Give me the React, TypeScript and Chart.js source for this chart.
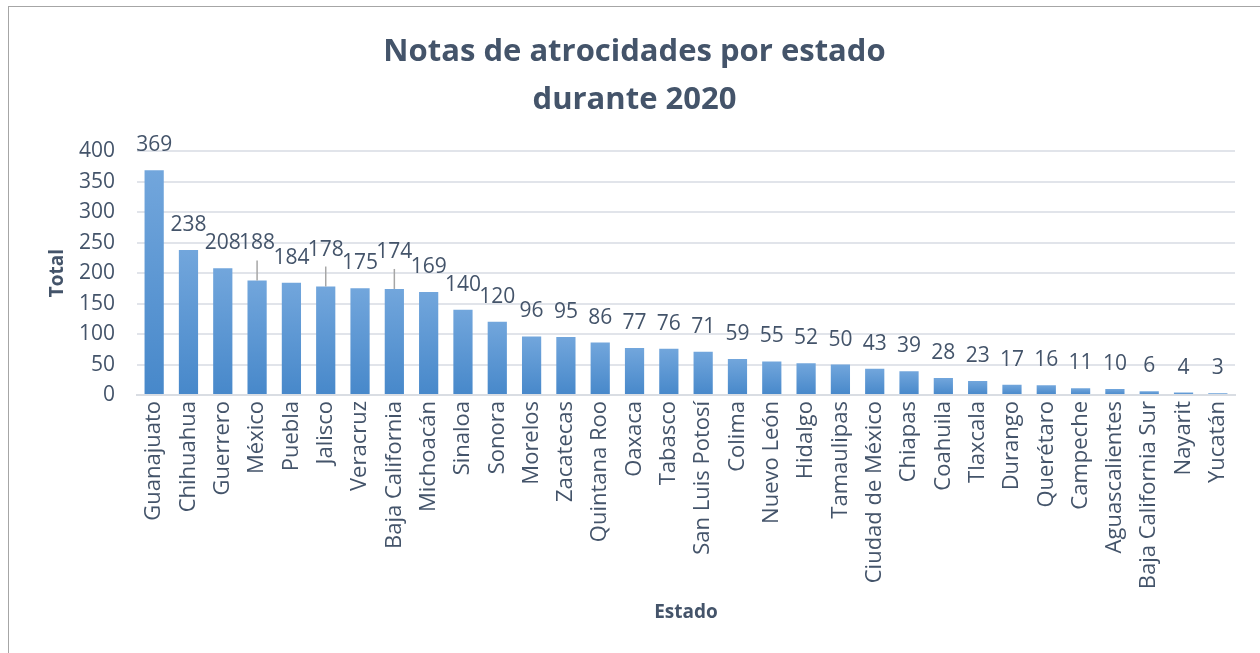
import React, { useEffect, useRef } from "react";
import { Chart, registerables } from "chart.js";

Chart.register(...registerables);

const states: string[] = [
  "Guanajuato", "Chihuahua", "Guerrero", "México", "Puebla", "Jalisco", "Veracruz",
  "Baja California", "Michoacán", "Sinaloa", "Sonora", "Morelos", "Zacatecas",
  "Quintana Roo", "Oaxaca", "Tabasco", "San Luis Potosí", "Colima", "Nuevo León",
  "Hidalgo", "Tamaulipas", "Ciudad de México", "Chiapas", "Coahuila", "Tlaxcala",
  "Durango", "Querétaro", "Campeche", "Aguascalientes", "Baja California Sur",
  "Nayarit", "Yucatán",
];

const totals: number[] = [
  369, 238, 208, 188, 184, 178, 175, 174, 169, 140, 120, 96, 95, 86, 77, 76, 71,
  59, 55, 52, 50, 43, 39, 28, 23, 17, 16, 11, 10, 6, 4, 3,
];

const titleLines: string[] = ["Notas de atrocidades por estado", "durante 2020"];
const yAxisTitle = "Total";
const xAxisTitle = "Estado";
const leaderLabelIndices: number[] = [3, 5, 7];

const TEXT = "#44546A";
const FONT = "'Open Sans', 'DejaVu Sans', sans-serif";

const dataLabelPlugin = {
  id: "dataLabels",
  afterDatasetsDraw(chart: any) {
    const { ctx } = chart;
    const meta = chart.getDatasetMeta(0);
    ctx.save();
    ctx.font = `21px ${FONT}`;
    ctx.fillStyle = TEXT;
    ctx.textAlign = "center";
    ctx.textBaseline = "middle";
    meta.data.forEach((bar: any, i: number) => {
      const v = chart.data.datasets[0].data[i];
      const top = bar.y;
      let cy = top - 25;
      if (leaderLabelIndices.includes(i)) {
        cy = top - 37;
        ctx.save();
        ctx.strokeStyle = "#A6A6A6";
        ctx.lineWidth = 1.5;
        ctx.beginPath();
        ctx.moveTo(bar.x, cy + 17);
        ctx.lineTo(bar.x, top);
        ctx.stroke();
        ctx.restore();
      }
      ctx.fillText(String(v), bar.x, cy);
    });
    ctx.restore();
  },
};

export default function App() {
  const canvasRef = useRef<HTMLCanvasElement | null>(null);

  useEffect(() => {
    if (!canvasRef.current) return;
    const chart = new Chart(canvasRef.current, {
      type: "bar",
      data: {
        labels: states,
        datasets: [
          {
            data: totals,
            barPercentage: 0.56,
            categoryPercentage: 1,
            backgroundColor: (c: any) => {
              const ch = c.chart;
              const ys = ch.scales?.y;
              if (!ys || c.dataIndex === undefined) return "#5B9BD5";
              const top = ys.getPixelForValue(c.raw ?? 0);
              const bottom = ys.getPixelForValue(0);
              if (!isFinite(top) || !isFinite(bottom) || bottom - top < 1) return "#5B9BD5";
              const g = ch.ctx.createLinearGradient(0, top, 0, bottom);
              g.addColorStop(0, "#72A6DC");
              g.addColorStop(1, "#4788CA");
              return g;
            },
          },
        ],
      },
      options: {
        responsive: true,
        maintainAspectRatio: false,
        animation: false,
        layout: { padding: { left: 0, right: 0, top: 0, bottom: 0 } },
        plugins: {
          legend: { display: false },
          tooltip: { enabled: false },
          title: {
            display: true,
            text: titleLines,
            color: TEXT,
            font: { family: FONT, size: 31, weight: "bold", lineHeight: 1.52 },
            padding: { top: 22, bottom: 28 },
          },
        },
        scales: {
          y: {
            min: 0,
            max: 400,
            afterFit: (s: any) => {
              s.width = 128;
            },
            ticks: {
              stepSize: 50,
              color: TEXT,
              font: { family: FONT, size: 21 },
              padding: 22,
            },
            grid: { color: "#E1E4EA", lineWidth: 2, drawTicks: false },
            border: { display: false },
            title: {
              display: true,
              text: yAxisTitle,
              color: TEXT,
              font: { family: FONT, size: 19, weight: "bold" },
              padding: { top: 37, bottom: 0 },
            },
          },
          rightGap: {
            type: "linear",
            position: "right",
            afterFit: (s: any) => {
              s.width = 25;
            },
            ticks: { display: false },
            grid: { display: false, drawTicks: false },
            border: { display: false },
          },
          x: {
            afterFit: (s: any) => {
              s.height = 258;
            },
            ticks: {
              autoSkip: false,
              minRotation: 90,
              maxRotation: 90,
              color: TEXT,
              font: { family: FONT, size: 22 },
              padding: 6,
            },
            grid: { display: false, drawTicks: false },
            border: { display: true, color: "#D9DDE3", width: 2 },
            title: {
              display: true,
              text: xAxisTitle,
              color: TEXT,
              font: { family: FONT, size: 19, weight: "bold" },
              padding: { top: 0, bottom: 29 },
            },
          },
        },
      },
      plugins: [dataLabelPlugin],
    });
    return () => chart.destroy();
  }, []);

  return (
    <div
      style={{
        position: "fixed",
        left: 8,
        top: 6,
        width: 1270,
        height: 680,
        border: "1px solid #A6A6A6",
        background: "#fff",
      }}
    >
      <div style={{ position: "absolute", left: 0, top: 0, width: 1251, height: 646 }}>
        <canvas ref={canvasRef} />
      </div>
    </div>
  );
}
